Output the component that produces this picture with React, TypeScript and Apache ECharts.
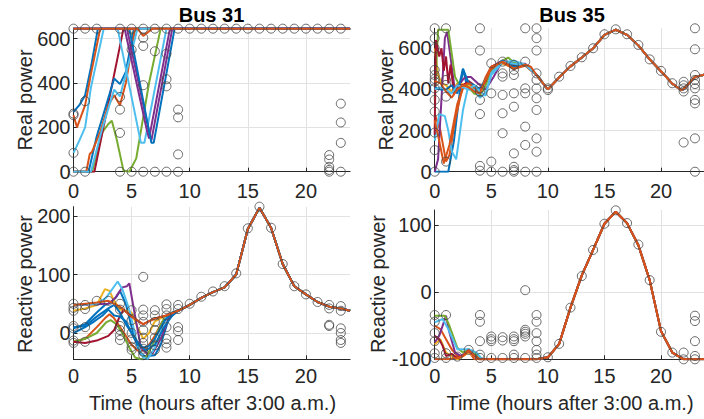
import React, { useEffect, useRef } from "react";
import * as echarts from "echarts";

const FONT = "Liberation Sans, Arial, Helvetica, sans-serif";
const MATLAB = ["#0072BD", "#D95319", "#EDB120", "#7E2F8E", "#77AC30", "#4DBEEE", "#A2142F"];
const X_MAX = 23.8;

// ---------- Bus 31, real power ----------
const p31Tail: number[][] = [[X_MAX, 645]];
const p31Lines: number[][][] = [
  [[0, 270], [0.5, 300], [1, 345], [1.5, 470], [2.1, 645]],
  [[0, 255], [0.3, 200], [1, 300], [1.5, 440], [2.3, 645]],
  [[0, 645], [4.7, 645], [5, 615], [5.3, 645]],
  [[0, 645]],
  [[0, 0], [1.6, 0], [2.5, 180], [3, 215], [3.3, 230], [3.7, 150], [4.3, 5], [4.8, 0], [5.4, 60], [6.5, 400], [7.5, 645]],
  [[0, 85], [0.5, 140], [1, 200], [1.5, 380], [2.6, 645]],
  [[0, 0], [1.8, 0], [4.3, 645]],
  [[0, 0], [1.3, 0], [2, 160], [2.7, 280], [3.5, 420], [4, 395], [4.5, 450], [5.2, 645]],
  [[0, 0], [1.1, 0], [1.4, 80], [1.6, 90], [2.3, 180], [3, 300], [3.5, 345], [4, 300], [4.5, 400], [5.3, 645]],
  [[0, 0], [1.5, 0], [2.5, 200], [3.5, 370], [4, 340], [4.8, 500], [5.5, 645]],
  [[0, 645], [3.8, 645], [5.8, 130], [6.1, 130], [8, 645]],
  [[0, 645], [4.4, 645], [6.3, 190], [6.5, 150], [8.3, 645]],
  [[0, 645], [4.6, 645], [6.5, 180], [6.7, 140], [8.5, 645]],
  [[0, 645], [4.8, 645], [6.7, 130], [6.9, 130], [8.7, 645]],
  [[0, 645], [5.5, 645], [6, 612], [6.3, 625], [6.8, 645]],
];
const p31Colors = [0, 1, 2, 3, 4, 5, 6, 0, 1, 5, 5, 3, 3, 0, 1];
const p31Circles: [number, number[]][] = [
  [0, [645, 262, 255, 85, 0]], [1, [645, 318, 0]], [2, [645]],
  [4, [645, 337, 280, 175, 0]], [5, [645, 550, 0]], [6, [645, 604, 567, 390, 0]],
  [7, [645, 543, 0]], [8, [645, 532, 417, 385, 0]], [9, [645, 280, 245, 78, 0]],
  [10, [645]], [11, [645]], [12, [645]], [13, [645]], [14, [645]], [15, [645]],
  [16, [645]], [17, [645]], [18, [645]], [19, [645]], [20, [645]], [21, [645]],
  [22, [645, 75, 55, 22, 8, 0]], [23, [645, 307, 222, 130, 0]],
];

// ---------- Bus 35, real power ----------
const p35Tail: number[][] = [
  [9, 470], [10, 400], [11, 458], [12, 512], [13, 555], [14, 600], [15, 665], [16, 690],
  [17, 665], [18, 614], [19, 546], [20, 488], [21, 428], [21.8, 396], [22, 402], [23, 460], [X_MAX, 472],
];
const p35Lines: number[][][] = [
  [[0, 0], [0.5, 0], [1.2, 0], [1.7, 150], [2.2, 380], [2.5, 500], [2.8, 430], [3.2, 420], [3.8, 390], [4.5, 440], [5, 500], [6, 540], [7, 520], [8, 520], [9, 470]],
  [[0, 280], [0.5, 200], [1, 50], [1.3, 80], [1.8, 250], [2.5, 420], [3, 430], [3.5, 400], [4, 390], [4.5, 460], [5, 510], [6, 530], [7, 500], [8, 520], [9, 470]],
  [[0, 600], [0.3, 470], [0.6, 430], [1, 420], [1.5, 390], [2, 430], [3, 420], [4, 400], [5, 500], [6, 525], [7, 510], [8, 520], [9, 470]],
  [[0, 0], [0.3, 60], [0.9, 650], [1.1, 680], [1.8, 390], [2.2, 430], [2.7, 460], [3.2, 460], [3.8, 430], [4.5, 400], [5.2, 460], [6, 540], [7, 525], [8, 525], [9, 470]],
  [[0, 350], [0.3, 690], [1.2, 690], [1.8, 460], [2.2, 420], [2.8, 420], [3.5, 380], [4, 370], [4.5, 420], [5, 490], [6, 540], [6.5, 555], [7, 530], [8, 520], [9, 470]],
  [[0, 150], [0.4, 280], [0.9, 270], [1.2, 200], [1.5, 100], [1.9, 60], [2.5, 300], [2.9, 400], [3.5, 400], [4, 360], [4.5, 380], [5, 470], [6, 530], [7, 540], [8, 520], [9, 470]],
  [[0, 180], [0.1, 640], [0.4, 560], [0.6, 600], [0.8, 490], [1, 560], [1.2, 430], [1.4, 520], [1.7, 380], [2, 420], [2.5, 420], [3, 440], [3.5, 420], [4, 395], [4.5, 440], [5, 510], [6, 540], [7, 510], [8, 520], [9, 470]],
  [[0, 410], [0.5, 400], [1, 400], [1.5, 420], [2, 380], [2.5, 500], [3, 430], [3.5, 420], [4, 400], [5, 500], [6, 540], [7, 510], [8, 520], [9, 470]],
  [[0, 250], [0.4, 150], [0.8, 40], [1.3, 130], [2, 330], [2.6, 420], [3, 430], [4, 390], [5, 500], [6, 530], [7, 500], [8, 515], [9, 470]],
  [[0, 400], [0.5, 410], [1, 400], [1.5, 380], [2, 420], [2.5, 410], [3, 400], [3.5, 420], [4, 390], [4.5, 370], [5, 480], [6, 535], [7, 525], [8, 520], [9, 470]],
  [[0, 440], [0.5, 430], [1, 390], [1.5, 360], [2, 400], [2.5, 420], [3, 410], [3.5, 390], [4, 380], [4.5, 450], [5, 510], [5.5, 520], [6, 535], [6.5, 520], [7, 500], [7.5, 510], [8, 520], [8.5, 510], [9, 470]],
];
const p35Colors = [0, 1, 2, 3, 4, 5, 6, 0, 1, 5, 1];
const p35Circles: [number, number[]][] = [
  [0, [697, 649, 600, 495, 470, 451, 438, 405, 349, 292, 190, 105, 0]],
  [1, [697, 446, 422, 365, 49]],
  [4, [697, 589, 405, 389, 349, 280, 28, 5]],
  [5, [527, 381, 49, 0]],
  [6, [535, 478, 462, 373, 284, 187, 0]],
  [7, [519, 495, 470, 381, 316, 89, 24, 8, 0]],
  [8, [697, 535, 405, 381, 219, 130, 0]],
  [9, [697, 649, 589, 478, 446, 405, 357, 300, 162, 97, 0]],
  [10, [405, 397]], [11, [462]], [12, [514]], [13, [556]], [14, [600]], [15, [668]],
  [16, [692]], [17, [668]], [18, [616]], [19, [546]], [20, [490]], [21, [430]],
  [22, [437, 420, 405, 390, 142]],
  [23, [697, 595, 470, 446, 426, 405, 349, 332, 162, 0]],
];

// ---------- Bus 31, reactive power ----------
const q31Tail: number[][] = [
  [9, 38], [10, 48], [11, 60], [12, 70], [13, 78], [14, 100], [15, 178], [16, 214],
  [17, 180], [18, 118], [19, 80], [20, 66], [21, 53], [22, 45], [23, 42], [X_MAX, 38],
];
const q31Lines: number[][][] = [
  [[0, 8], [1, 15], [2, 35], [2.7, 48], [3.2, 52], [3.7, 62], [4, 72], [4.5, 50], [5, 10], [5.7, -35], [6.2, -40], [7, -38], [7.5, -20], [8.2, 25], [9, 38]],
  [[0, -15], [1, -10], [2, 10], [2.7, 25], [3.1, 32], [3.5, 25], [4, 10], [4.5, -5], [5, -20], [5.5, -30], [6, -30], [6.5, -20], [7, -5], [7.5, 15], [8, 30], [9, 38]],
  [[0, 38], [1, 42], [2, 48], [2.7, 75], [3.1, 72], [3.5, 55], [4, 40], [4.5, 38], [5, 35], [5.5, 10], [6, -10], [6.5, 0], [7, 20], [8, 30], [9, 38]],
  [[0, 48], [3, 50], [3.6, 60], [4.2, 78], [4.6, 80], [4.8, 85], [5.2, 40], [5.8, -25], [6.3, -35], [6.8, -35], [7.5, -10], [8.3, 30], [9, 38]],
  [[0, -15], [1, -10], [2, 0], [2.8, 18], [3.2, 22], [3.7, 15], [4.2, 0], [4.8, -25], [5.3, -42], [5.8, -45], [6.3, -40], [6.8, -20], [7.3, 5], [7.8, 25], [8.5, 35], [9, 38]],
  [[0, 48], [2, 50], [2.8, 60], [3.8, 88], [4.2, 75], [4.8, 40], [5.5, -20], [6, -42], [6.4, -44], [7, -25], [7.5, 0], [8, 30], [9, 38]],
  [[0, -15], [1, -17], [2, -13], [3, -5], [3.5, 5], [3.9, 25], [4.3, 40], [5, 28], [6, 15], [7, 25], [8, 30], [9, 38]],
  [[0, 0], [1, 10], [1.8, 20], [2.5, 30], [3, 40], [3.5, 30], [4, 28], [4.5, 20], [5, 0], [5.5, -20], [6, -25], [6.5, -22], [7, -10], [7.8, 20], [8.5, 35], [9, 38]],
  [[0, 10], [1, 12], [2, 28], [3, 42], [3.5, 48], [4, 35], [4.5, 15], [5, 0], [5.5, -15], [6.2, -30], [7, -20], [7.8, 10], [8.5, 30], [9, 38]],
  [[0, 48], [1, 50], [2, 52], [3, 55], [4, 45], [5, 28], [6, 15], [7, 25], [8, 30], [9, 38]],
];
const q31Colors = [0, 1, 2, 3, 4, 5, 6, 0, 0, 1];
const q31Circles: [number, number[]][] = [
  [0, [50, 43, 38, 12, 8, -13, -17]], [1, [48, 41, 10, -15]], [2, [55]], [3, [55]],
  [4, [50, 40, 12, 5, -4, -12]], [5, [39, 22, 0, -11, -24, -29]],
  [6, [96, 40, 30, 19, 5, -8, -17, -27, -32, -38]], [7, [39, 30, 19, 5, -8, -21, -29]],
  [8, [49, 41, 30, 10, -10, -18, -25]], [9, [48, 41, 10, 3, -12]],
  [10, [50]], [11, [62]], [12, [71]], [13, [80]], [14, [102]], [15, [179]], [16, [216]],
  [17, [180]], [18, [118]], [19, [80]], [20, [66]], [21, [53]],
  [22, [48, 42, 14, 12]], [23, [46, 38, 8, 0, -12, -17]],
];

// ---------- Bus 35, reactive power ----------
const q35Tail: number[][] = [
  [4, -100], [9, -100], [10, -97], [11, -77], [12, -23], [13, 25], [14, 63], [15, 102], [16, 120],
  [17, 103], [18, 70], [19, 18], [20, -58], [21, -90], [22, -100], [X_MAX, -100],
];
const q35Lines: number[][][] = [
  [[0, -100], [1.5, -100], [2.2, -98], [3, -88], [3.7, -95], [4.3, -100]],
  [[0, -50], [0.5, -55], [1, -70], [1.5, -85], [2, -95], [2.5, -95], [3, -88], [3.5, -100]],
  [[0, -78], [0.5, -70], [1, -90], [2, -100], [3, -90], [4, -100]],
  [[0, -75], [0.4, -65], [1, -35], [1.3, -60], [1.8, -90], [2.3, -95], [3, -88], [3.5, -95], [4, -100]],
  [[0, -35], [0.9, -35], [1.3, -50], [2, -83], [2.5, -90], [3, -85], [3.5, -90], [4, -100]],
  [[0, -45], [0.7, -40], [1.2, -55], [2, -85], [3, -85], [3.7, -90], [4.2, -100]],
  [[0, -65], [0.4, -70], [0.7, -80], [1, -95], [1.5, -92], [2, -98], [2.5, -95], [3, -86], [3.5, -95], [4, -100]],
  [[0, -100], [1, -100], [2, -98], [2.5, -95], [3, -87], [3.5, -95], [4, -100]],
];
const q35Colors = [0, 1, 2, 3, 4, 5, 6, 1];
const q35Circles: [number, number[]][] = [
  [0, [-34, -44, -61, -73, -91, -98]], [1, [-34, -91, -98]], [2, [-96]], [3, [-86]],
  [4, [-34, -44, -73, -93, -98]], [5, [-66, -70, -73, -98]], [6, [-67, -72, -98]],
  [7, [-66, -70, -73, -93, -98]], [8, [3, -56, -59, -62, -66, -98]],
  [9, [-34, -44, -61, -73, -86, -93, -98]],
  [10, [-97]], [11, [-77]], [12, [-23]], [13, [24]], [14, [63]], [15, [102]], [16, [122]],
  [17, [103]], [18, [71]], [19, [18]], [20, [-59]], [21, [-90]], [22, [-90, -100]],
  [23, [-35, -43, -73, -95, -100]],
];

const xTickStep = 5;

function lineSeries(lines: number[][][], colors: number[], tail: number[][], idx: number) {
  return lines.map((pts, i) => {
    const last = pts[pts.length - 1][0];
    const data = pts.concat(tail.filter((p) => p[0] > last));
    const c = MATLAB[colors[i]];
    return {
      type: "line",
      xAxisIndex: idx,
      yAxisIndex: idx,
      data,
      showSymbol: false,
      symbol: "none",
      silent: true,
      clip: true,
      lineStyle: { width: 2, color: c },
      itemStyle: { color: c },
      z: 2,
    };
  });
}

function circleSeries(circles: [number, number[]][], idx: number) {
  const data: number[][] = [];
  circles.forEach(([x, ys]) => ys.forEach((y) => data.push([x, y])));
  return {
    type: "scatter",
    xAxisIndex: idx,
    yAxisIndex: idx,
    data,
    symbol: "circle",
    symbolSize: 9,
    silent: true,
    itemStyle: { color: "rgba(0,0,0,0)", borderColor: "#454545", borderWidth: 1 },
    z: 3,
  };
}

const grids = [
  { left: 73.5, top: 28, width: 276.6, height: 143.7 },
  { left: 434.7, top: 28.3, width: 276.6, height: 143.4 },
  { left: 73.5, top: 206.7, width: 276.6, height: 152.6 },
  { left: 434.7, top: 210, width: 276.6, height: 149.3 },
];

const axisLineStyle = { show: true, onZero: false, lineStyle: { color: "#262626", width: 1 } };
const axisTickStyle = { show: true, inside: true, length: 4, lineStyle: { color: "#262626" } };
const gridLine = { show: true, showMinLine: false, showMaxLine: false, lineStyle: { color: "#e2e2e2", width: 1 } };

function xAxis(idx: number, margin: number) {
  return {
    type: "value",
    gridIndex: idx,
    min: 0,
    max: X_MAX,
    interval: xTickStep,
    axisLine: axisLineStyle,
    axisTick: axisTickStyle,
    splitLine: gridLine,
    axisLabel: { color: "#262626", fontSize: 20, fontFamily: FONT, margin, showMaxLabel: false },
  };
}

function yAxis(idx: number, min: number, max: number, extra: any) {
  return {
    type: "value",
    gridIndex: idx,
    min,
    max,
    ...extra,
    axisLine: axisLineStyle,
    axisTick: axisTickStyle,
    splitLine: gridLine,
    axisLabel: {
      color: "#262626",
      fontSize: 20,
      fontFamily: FONT,
      margin: 3,
      showMaxLabel: false,
      showMinLabel: extra.hideMin ? false : true,
    },
  };
}

function textEl(text: string, x: number, y: number, rotate: boolean, bold = false) {
  return {
    type: "text",
    x,
    y,
    rotation: rotate ? Math.PI / 2 : 0,
    silent: true,
    style: {
      text,
      align: "center",
      verticalAlign: "middle",
      fill: bold ? "#000000" : "#262626",
      font: `${bold ? "bold " : ""}20px ${FONT}`,
    },
  };
}

export default function App() {
  const ref = useRef<HTMLDivElement>(null);
  useEffect(() => {
    if (!ref.current) return;
    const chart = echarts.init(ref.current, undefined, { renderer: "svg" });
    chart.setOption({
      animation: false,
      backgroundColor: "#ffffff",
      textStyle: { fontFamily: FONT },
      grid: grids,
      xAxis: [xAxis(0, 9), xAxis(1, 9), xAxis(2, 7), xAxis(3, 7)],
      yAxis: [
        yAxis(0, 0, 648, { interval: 200 }),
        yAxis(1, 0, 697, { interval: 200 }),
        yAxis(2, -45, 216, { splitNumber: 3, hideMin: true }),
        yAxis(3, -100, 122.5, { interval: 100 }),
      ],
      series: [
        ...lineSeries(p31Lines, p31Colors, p31Tail, 0),
        circleSeries(p31Circles, 0),
        ...lineSeries(p35Lines, p35Colors, p35Tail, 1),
        circleSeries(p35Circles, 1),
        ...lineSeries(q31Lines, q31Colors, q31Tail, 2),
        circleSeries(q31Circles, 2),
        ...lineSeries(q35Lines, q35Colors, q35Tail, 3),
        circleSeries(q35Circles, 3),
      ],
      graphic: [
        textEl("Bus 31", 211.5, 14.5, false, true),
        textEl("Bus 35", 572, 14.5, false, true),
        textEl("Real power", 25, 100, true),
        textEl("Real power", 386, 100, true),
        textEl("Reactive power", 25, 284, true),
        textEl("Reactive power", 378, 284, true),
        textEl("Time (hours after 3:00 a.m.)", 212.5, 403, false),
        textEl("Time (hours after 3:00 a.m.)", 570, 403, false),
      ],
    });
    return () => chart.dispose();
  }, []);
  return (
    <div
      ref={ref}
      style={{ position: "fixed", left: 0, top: 0, width: 704, height: 419, background: "#fff" }}
    />
  );
}
